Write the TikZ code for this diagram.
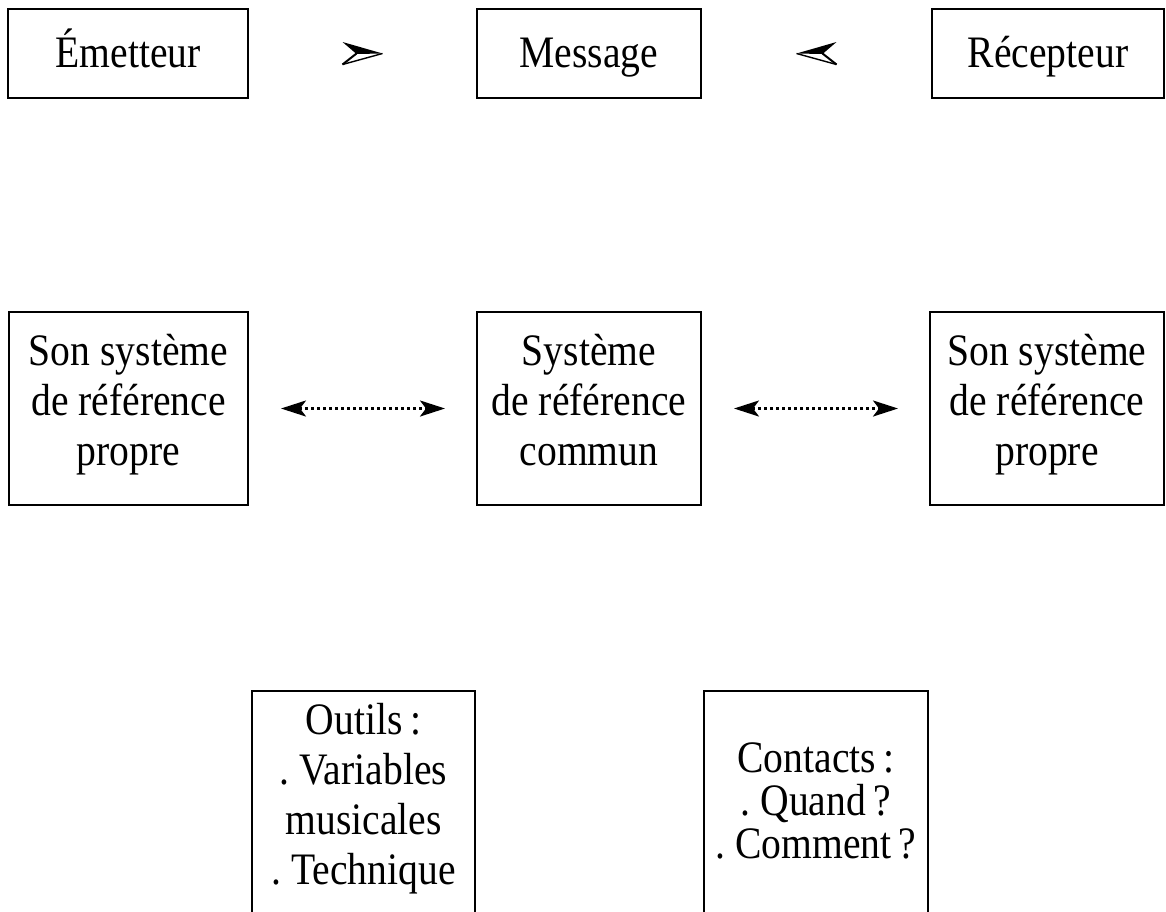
\documentclass[tikz,border=0pt]{standalone}
\usepackage{fontspec}
\setmainfont{Liberation Serif}[FakeStretch=0.88]
\usetikzlibrary{arrows.meta,calc}

\tikzset{
  boite/.style={draw, line width=2pt, align=center, inner sep=0pt, font=\fontsize{45}{50}\selectfont\frenchspacing},
  ligne/.style={text height=38pt, text depth=11pt},
  bloc/.style={text height=128pt, text depth=15pt},
  lien/.style={line width=2.4pt, dash pattern=on 2.4pt off 3.6pt,
    {Stealth[length=25pt,width=16pt,inset=6pt]}-{Stealth[length=25pt,width=16pt,inset=6pt]},
    shorten <=32pt, shorten >=31pt},
  demifleche/.pic={
    \fill (-20,-11.5) -- (20,0) -- (-6,0.5) -- cycle;
    \draw[line width=2pt] (-6,0) -- (-20,11);
    \draw[line width=1.4pt] (-20,11) -- (20,0);
  }
}

\begin{document}
\begin{tikzpicture}[x=1pt, y=-1pt]
    \useasboundingbox (0,0) rectangle (1166,911);
    \clip (0,0) rectangle (1166,911);

    % first row
    \node[boite, ligne, minimum width=240, minimum height=89] (emetteur) at (128,53.5) {Émetteur};
    \node[boite, ligne, minimum width=224, minimum height=89] (message) at (589,53.5) {Message};
    \node[boite, ligne, minimum width=232, minimum height=89] (recepteur) at (1048,53.5) {Récepteur};

    % arrows (first row)
    \coordinate (versmsg) at ($(emetteur.east)!0.5!(message.west)$);
    \coordinate (depuisrec) at ($(message.east)!0.5!(recepteur.west)$);
    \pic at (versmsg) {demifleche}; % emetteur -> message
    \pic[xscale=-1] at (depuisrec) {demifleche}; % recepteur -> message

    % second row
    \node[boite, bloc, minimum width=239, minimum height=193] (propreE) at (128.5,408.5) {Son système\\de référence\\propre};
    \node[boite, bloc, minimum width=224, minimum height=193] (commun) at (589,408.5) {Système\\de référence\\commun};
    \node[boite, bloc, minimum width=234, minimum height=193] (propreR) at (1047,408.5) {Son système\\de référence\\propre};

    % arrows (second row)
    \draw[lien] (propreE) -- (commun); % propre <-> commun
    \draw[lien] (commun) -- (propreR); % commun <-> propre

    % third row (cut at the bottom)
    \node[boite, anchor=north, minimum width=223, inner ysep=12pt, text depth=120pt] (outils) at (363.5,690) {Outils\,:\\. Variables\\musicales\\. Technique};
    \node[boite, anchor=north, minimum width=224, inner ysep=52pt, text depth=120pt,
          font=\fontsize{45}{43}\selectfont\frenchspacing] (contacts) at (816,690) {Contacts\,:\\. Quand\,?\\. Comment\,?};

\end{tikzpicture}
\end{document}
